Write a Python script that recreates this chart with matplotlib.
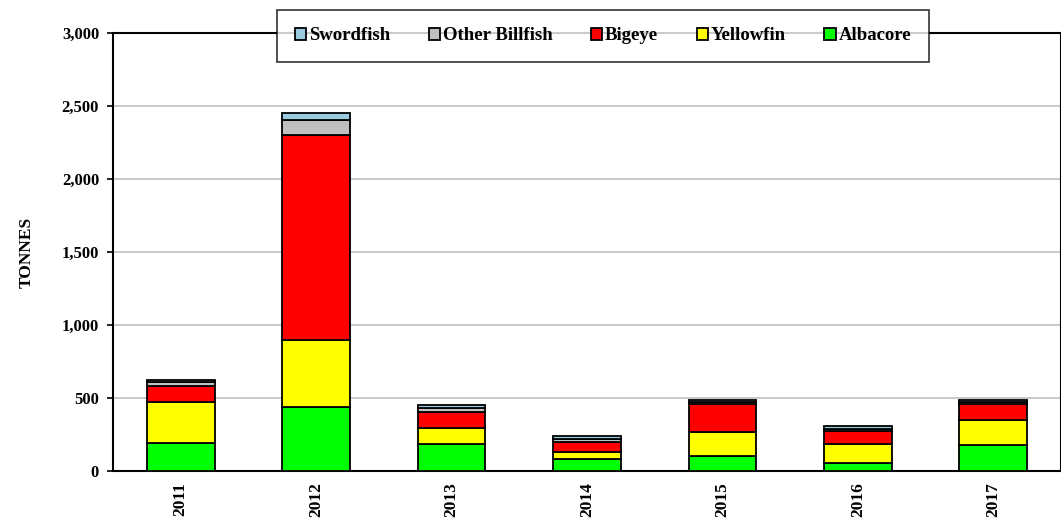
import numpy as np
import matplotlib
matplotlib.use("Agg")
import matplotlib.pyplot as plt
from matplotlib.ticker import FuncFormatter

years = ["2011", "2012", "2013", "2014", "2015", "2016", "2017"]
albacore = [192, 438, 185, 80, 103, 55, 180]
yellowfin = [281, 460, 110, 48, 164, 130, 170]
bigeye = [110, 1404, 110, 70, 192, 90, 109]
other_billfish = [30, 100, 28, 20, 12, 15, 12]
swordfish = [12, 50, 19, 20, 15, 18, 15]

series = [
    ("Albacore", albacore, "#00FF00"),
    ("Yellowfin", yellowfin, "#FFFF00"),
    ("Bigeye", bigeye, "#FF0000"),
    ("Other Billfish", other_billfish, "#C0C0C0"),
    ("Swordfish", swordfish, "#99CCE0"),
]

plt.rcParams["font.family"] = ["Liberation Serif", "DejaVu Serif"]
plt.rcParams["font.weight"] = "bold"

fig = plt.figure(figsize=(10.61, 5.2), dpi=100)
ax = fig.add_axes([113 / 1061, 49 / 520, 948 / 1061, 438 / 520])

x = np.arange(len(years))
bottom = np.zeros(len(years))
handles = []
for name, vals, color in series:
    b = ax.bar(x, vals, width=0.5, bottom=bottom, color=color,
               edgecolor="black", linewidth=1.3, label=name, zorder=3)
    handles.append(b)
    bottom += np.array(vals)

ax.set_xlim(-0.5, len(years) - 0.5)
ax.set_ylim(0, 3000)
ax.set_yticks(np.arange(0, 3001, 500))
ax.yaxis.set_major_formatter(FuncFormatter(lambda v, p: f"{int(v):,}"))
ax.yaxis.grid(True, color="#C0C0C0", linewidth=1.2, zorder=0)
ax.set_xticks(x)
ax.set_xticklabels(years, rotation=90, fontsize=12.5, fontweight="bold")
ax.tick_params(axis="x", length=0, pad=8)
ax.tick_params(axis="y", length=4, width=1.2, labelsize=12, pad=6)
for lbl in ax.get_yticklabels():
    lbl.set_fontweight("bold")

for s in ax.spines.values():
    s.set_linewidth(1.5)
    s.set_color("black")

ax.set_ylabel("TONNES", fontsize=12.5, fontweight="bold")
ax.yaxis.set_label_coords(-0.083, 0.5)

leg = ax.legend(handles[::-1], [s[0] for s in series][::-1], ncol=5,
                loc="center", bbox_to_anchor=(603 / 1061, 1 - 36 / 520),
                bbox_transform=fig.transFigure, frameon=True, fancybox=False,
                edgecolor="black", handlelength=0.6, handleheight=0.6,
                handletextpad=0.15, columnspacing=2.05, borderpad=0.95,
                prop={"weight": "bold", "size": 13.5})
leg.get_frame().set_linewidth(1.2)
leg.set_zorder(5)

fig.savefig("out.png", dpi=100)
